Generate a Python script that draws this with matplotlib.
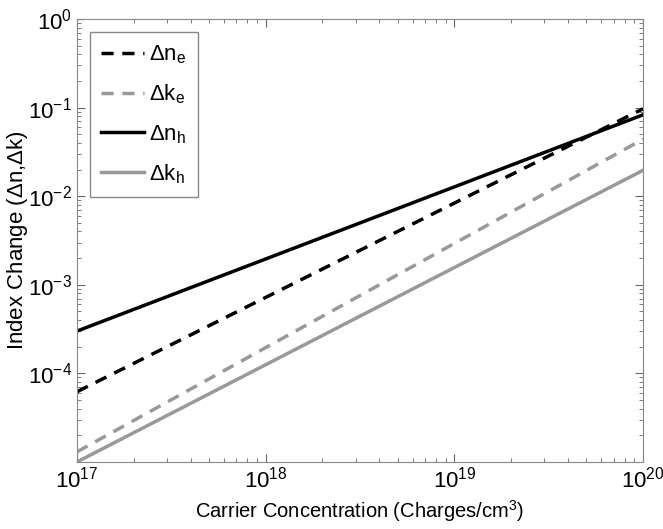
import numpy as np
import matplotlib
matplotlib.use('Agg')
import matplotlib.pyplot as plt

# Schriften (Helvetica-ähnlich)
plt.rcParams['font.family'] = ['Liberation Sans', 'DejaVu Sans']
plt.rcParams['mathtext.fontset'] = 'custom'
plt.rcParams['mathtext.rm'] = 'Liberation Sans'
plt.rcParams['mathtext.it'] = 'Liberation Sans'
plt.rcParams['mathtext.bf'] = 'Liberation Sans:bold'

# Ladungsträgerdichte (Endpunkte)
carrier = [1e17, 1e20]

# Indexänderungen
dn_e = [6.2e-5, 0.097]
dk_e = [1.3e-5, 4.4e-2]
dn_h = [3.0e-4, 8.3e-2]
dk_h = [1.0e-5, 1.96e-2]

labels = [r'$\Delta\mathregular{n_e}$', r'$\Delta\mathregular{k_e}$',
          r'$\Delta\mathregular{n_h}$', r'$\Delta\mathregular{k_h}$']

gray = '#999999'
dash = (0, (3.5, 2.5))

fig = plt.figure(figsize=(6.63, 5.29), dpi=100)
ax = fig.add_axes([0.116, 0.1267, 0.854, 0.8374])

ax.loglog(carrier, dn_e, color='black', lw=2.5, ls=dash, label=labels[0])
ax.loglog(carrier, dk_e, color=gray, lw=2.5, ls=dash, label=labels[1])
ax.loglog(carrier, dn_h, color='black', lw=2.5, label=labels[2])
ax.loglog(carrier, dk_h, color=gray, lw=2.5, label=labels[3])

ax.set_xlim(1e17, 1e20)
ax.set_ylim(1e-5, 1e0)
ax.set_yticks([1e-4, 1e-3, 1e-2, 1e-1, 1e0])

ax.tick_params(which='both', direction='in', top=True, right=True,
               labelsize=16, color='#666666')
ax.tick_params(which='major', length=6)
ax.tick_params(which='minor', length=3)
for sp in ax.spines.values():
    sp.set_color('#888888')

ax.set_xlabel('Carrier Concentration (Charges/cm$^3$)', fontsize=14.5)
ax.set_ylabel(r'Index Change ($\Delta$n,$\Delta$k)', fontsize=16)
ax.yaxis.set_label_coords(-0.083, 0.5)

leg = ax.legend(loc='upper left', fontsize=16, handlelength=1.9,
                fancybox=False, edgecolor='#888888', framealpha=1,
                borderaxespad=0.6, labelspacing=0.75, handletextpad=0.25,
                borderpad=0.5)
leg.get_frame().set_linewidth(1.0)

fig.savefig('out.png', dpi=100)
